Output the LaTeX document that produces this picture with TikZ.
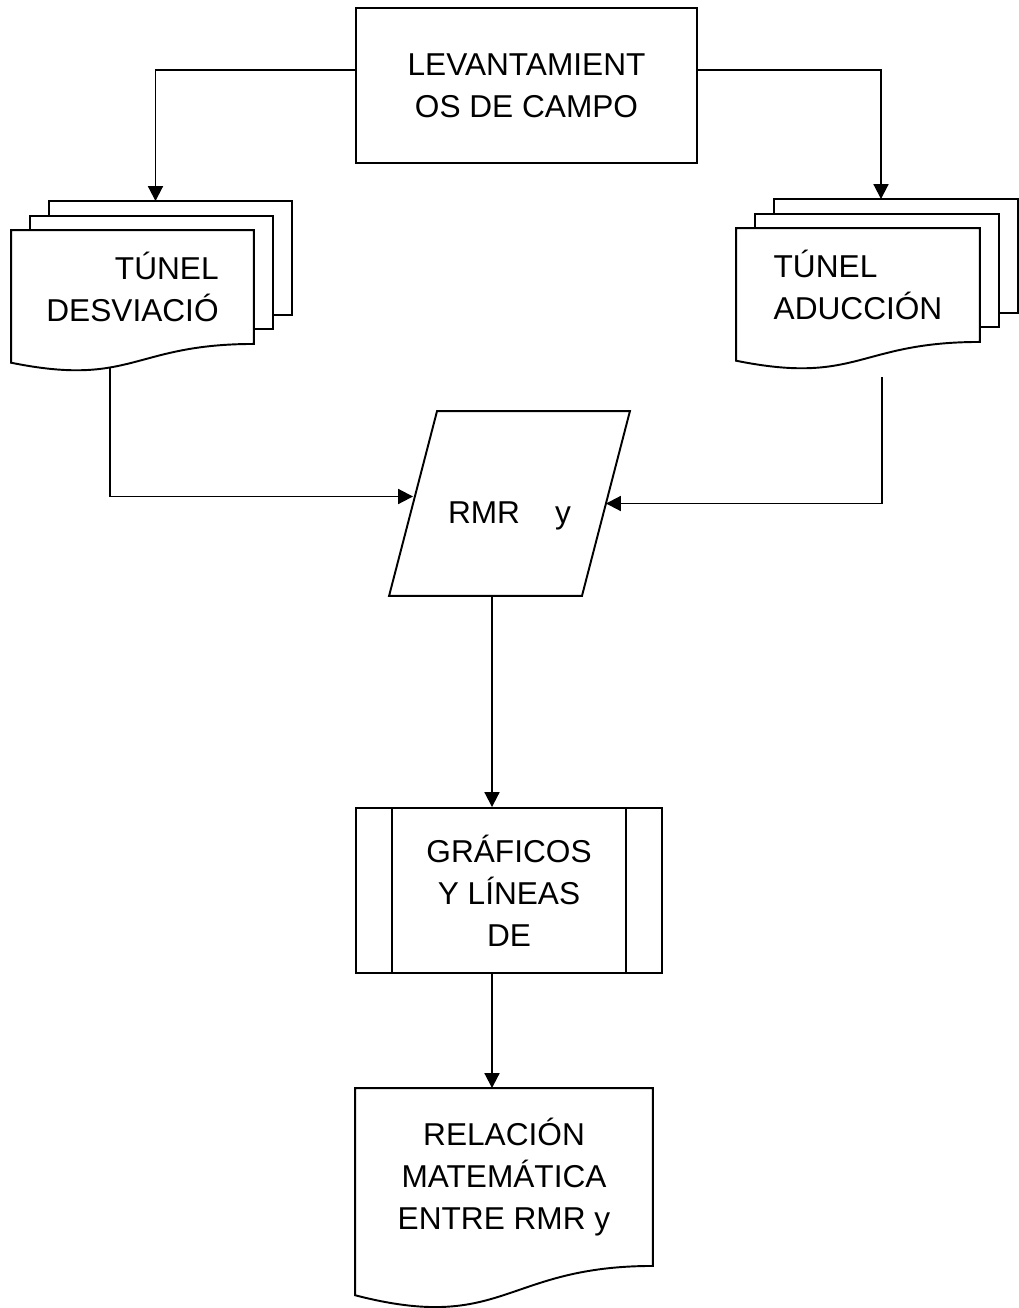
\documentclass[tikz,border=0pt]{standalone}
\usepackage{fontspec}
\setmainfont{Liberation Sans}
\usetikzlibrary{arrows.meta, calc, backgrounds}

% document shape: wavy bottom below the node #1, outlet coordinate #1-out
\newcommand{\docwave}[2]{%
  \draw[page] (#1.north west) -- (#1.north east) -- (#1.south east)
    .. controls (#1.south) and ($(#1.north)!1.381!(#1.south)$)
    .. ($(#1.north west)!1.1646!(#1.south west)$) coordinate[pos=#2] (#1-out)
    -- cycle;}
% two sheets behind a document, inlet coordinate #1-top
\newcommand{\docstack}[1]{%
  \foreach \k in {2,1}
    \draw[page] ([shift={(\k*0.38cm,\k*0.29cm)}]#1.south west)
      rectangle ([shift={(\k*0.38cm,\k*0.29cm)}]#1.north east);
  \coordinate (#1-top) at ([shift={(0.46cm,0.58cm)}]#1.north);}

\begin{document}
\begin{tikzpicture}[
          x = 0.02cm, y = -0.02cm,
       font = \fontsize{18}{24}\selectfont,
 line width = 1.1pt,
          > = {Triangle[length=8.5pt,width=8.5pt]},
   box/.style = {draw, rectangle, inner sep=0pt, align=center},
docnode/.style = {rectangle, inner sep=0pt, align=center},
  page/.style = {draw, fill=white, line width=1.1pt},
  flow/.style = {->}
                    ]
\useasboundingbox (0,0) rectangle (1018,1308);
% boxes
\node[box, minimum width=6.82cm, minimum height=3.1cm] (campo) at (526.5,85.5) {LEVANTAMIENT\\OS DE CAMPO};
\node[docnode, minimum width=4.82cm, minimum height=2.24cm, align=right] (desv) at (132.5,287) {TÚNEL\\DESVIACIÓ};
\node[docnode, minimum width=4.84cm, minimum height=2.24cm, align=left] (aduc) at (858,285) {TÚNEL\\ADUCCIÓN};
\node[docnode, minimum width=3.82cm, minimum height=3.66cm] (rmr) at (509.5,503.5) {\raisebox{-0.4cm}[0pt][0pt]{RMR\hspace{20pt}y}};
\node[box, minimum width=6.12cm, minimum height=3.3cm] (graf) at (509,890.5) {GRÁFICOS\\Y LÍNEAS\\DE};
\node[docnode, minimum width=5.92cm, minimum height=3.52cm] (rel) at (504,1177) {RELACIÓN\\MATEMÁTICA\\ENTRE RMR y};
% document outlines behind the text
\begin{scope}[on background layer]
  \docstack{desv} \docwave{desv}{0.62}
  \docstack{aduc} \docwave{aduc}{0.37}
  \docwave{rel}{0.5}
\end{scope}
% data parallelogram
\draw ([xshift=-0.48cm]rmr.south west) -- ([xshift=0.48cm]rmr.north west)
   -- ([xshift=0.48cm]rmr.north east) -- ([xshift=-0.48cm]rmr.south east) -- cycle;
% subroutine bars
\draw ([xshift=0.74cm]graf.north west) -- ([xshift=0.74cm]graf.south west);
\draw ([xshift=-0.74cm]graf.north east) -- ([xshift=-0.74cm]graf.south east);
% connectors
\draw[flow] ([yshift=0.31cm]campo.west) -| (desv-top);
\draw[flow] ([yshift=0.31cm]campo.east) -| (aduc-top);
\draw[flow] (desv-out) |- ([yshift=0.14cm]rmr.west);
\draw[flow] ([yshift=-0.46cm]aduc-out) |- (rmr.east);
\draw[flow] ([xshift=-0.34cm]graf.north |- rmr.south) -- ([xshift=-0.34cm]graf.north);
\draw[flow] ([xshift=-0.34cm]graf.south) -- ([xshift=-0.34cm]graf.south |- rel.north);
\end{tikzpicture}
\end{document}
